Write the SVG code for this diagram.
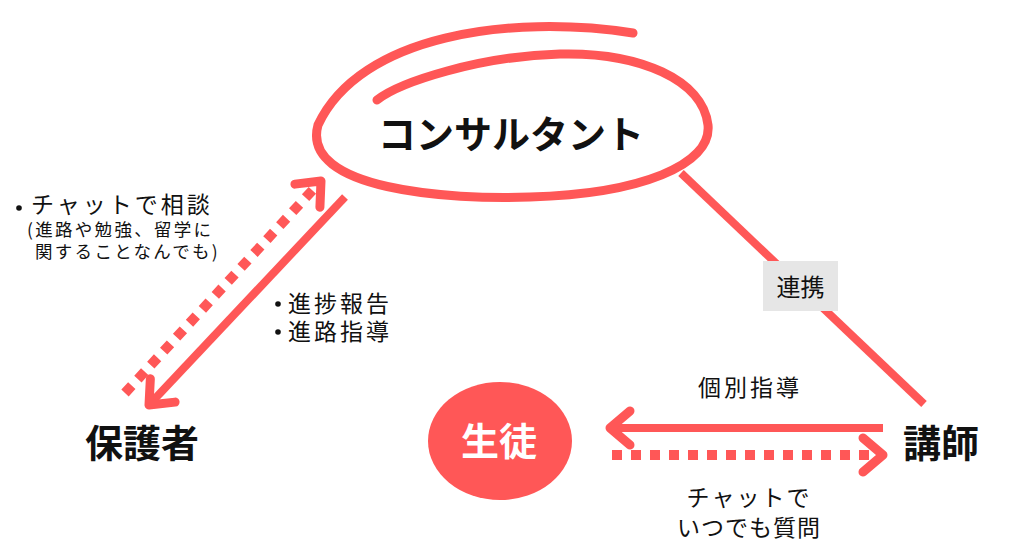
<svg xmlns="http://www.w3.org/2000/svg" width="1024" height="559" viewBox="0 0 1024 559">
  <style>
    .jp { font-family: "Noto Sans CJK JP", "Noto Sans", sans-serif; fill: #111111; }
    .node { font-weight: 700; font-size: 38px; }
    .lbl { font-weight: 400; font-size: 23px; letter-spacing: 3px; }
    .small { font-weight: 400; font-size: 17.5px; letter-spacing: 2.3px; }
    .solid { fill: none; stroke: #ff5757; stroke-width: 8; }
    .dotted { fill: none; stroke: #ff5757; stroke-width: 10; stroke-dasharray: 10 9; }
  </style>
  <defs>
    <marker id="chev" markerUnits="userSpaceOnUse" viewBox="-30 -25 40 50" markerWidth="40" markerHeight="50" refX="0" refY="0" orient="auto" overflow="visible">
      <path d="M -20 -17 L 0 0 L -20 17" fill="none" stroke="#ff5757" stroke-width="9" stroke-linecap="round" stroke-linejoin="round"/>
    </marker>
  </defs>
  <rect width="1024" height="559" fill="#ffffff"/>

  <g id="connectors">
    <line x1="681" y1="173" x2="924" y2="404" class="solid" stroke-width="9"/>
    <path d="M 345 197 L 149 405" class="solid" marker-end="url(#chev)"/>
    <path d="M 125 393 L 321 181" class="dotted" marker-end="url(#chev)"/>
    <path d="M 883 428 L 610 428" class="solid" stroke-width="10" marker-end="url(#chev)"/>
    <path d="M 612 455 L 883 455" class="dotted" marker-end="url(#chev)"/>
  </g>

  <g id="label-renkei">
    <rect x="763" y="261" width="75" height="50" fill="#e6e6e6"/>
    <text x="800.5" y="296" text-anchor="middle" class="jp" font-size="24">連携</text>
  </g>

  <g id="label-chat-soudan">
    <circle cx="19" cy="208" r="2.8" fill="#111"/>
    <text x="31" y="213" class="jp lbl">チャットで相談</text>
    <text x="27" y="236" class="jp small">(進路や勉強、留学に</text>
    <text x="35" y="258" class="jp small">関することなんでも)</text>
  </g>

  <g id="label-report">
    <circle cx="278" cy="304" r="2.8" fill="#111"/>
    <text x="288" y="312" class="jp lbl">進捗報告</text>
    <circle cx="278" cy="332" r="2.8" fill="#111"/>
    <text x="288" y="340" class="jp lbl">進路指導</text>
  </g>

  <g id="label-kobetsu">
    <text x="750" y="396" text-anchor="middle" class="jp lbl">個別指導</text>
  </g>

  <g id="label-chat-question">
    <text x="749" y="506" text-anchor="middle" class="jp" font-size="23" letter-spacing="2">チャットで</text>
    <text x="749" y="536" text-anchor="middle" class="jp" font-size="23" letter-spacing="1">いつでも質問</text>
  </g>

  <g id="node-consultant">
    <path d="M 633 33 C 510 14, 360 35, 318 125 C 300 190, 450 200, 530 197 C 640 194, 712 165, 708 125 C 703 80, 640 52, 560 54 C 480 56, 400 82, 377 100" fill="none" stroke="#ff5757" stroke-width="9" stroke-linecap="round" stroke-linejoin="round"/>
    <text x="511" y="148" text-anchor="middle" class="jp node" font-size="39">コンサルタント</text>
  </g>

  <g id="node-hogosha">
    <text x="142" y="457" text-anchor="middle" class="jp node">保護者</text>
  </g>

  <g id="node-seito">
    <ellipse cx="500" cy="441" rx="72" ry="59" fill="#ff5757"/>
    <text x="499" y="455" text-anchor="middle" class="jp node" style="fill:#ffffff">生徒</text>
  </g>

  <g id="node-koushi">
    <text x="941" y="457" text-anchor="middle" class="jp node">講師</text>
  </g>
</svg>
